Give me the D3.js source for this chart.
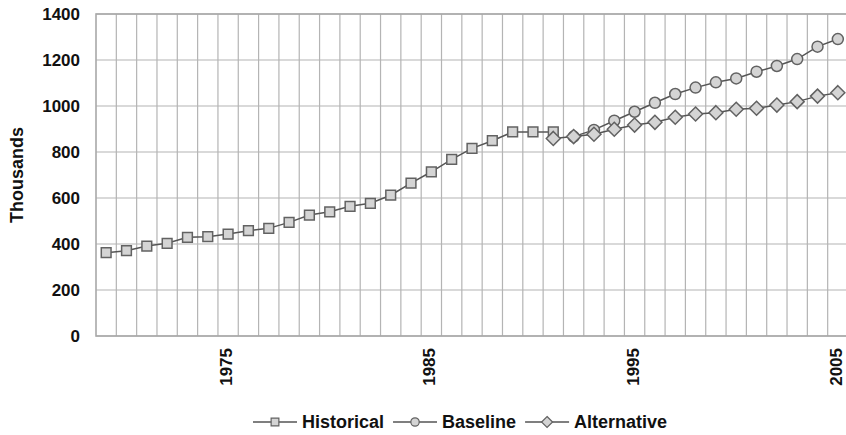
<!DOCTYPE html>
<html><head><meta charset="utf-8">
<script src="https://cdn.jsdelivr.net/npm/d3@7"></script>
<style>
body{margin:0;background:#fff;}
svg{display:block;font-family:"Liberation Sans",Arial,sans-serif;font-weight:bold;}
</style></head>
<body>
<svg id="c" width="846" height="435"></svg>
<script>
const years = d3.range(1969, 2006);
const historicalYears = d3.range(1969, 1992);
const historical = [362,371,391,403,429,432,443,458,468,494,526,540,564,577,612,665,714,768,816,849,887,887,887];
const baselineYears = d3.range(1992, 2006);
const baseline = [867,896,936,975,1014,1052,1080,1103,1120,1149,1174,1204,1258,1291];
const alternativeYears = d3.range(1991, 2006);
const alternative = [859,867,877,899,917,929,951,965,971,986,990,1004,1019,1043,1058];
const xTickLabels = ["1975","1985","1995","2005"];
const yTicks = [0,200,400,600,800,1000,1200,1400];
const seriesNames = ["Historical","Baseline","Alternative"];

const svg = d3.select("#c");
const m = {left:96, top:14, right:848, bottom:336};
const x = d3.scaleBand().domain(years).range([m.left, m.right]);
const y = d3.scaleLinear().domain([0,1400]).range([m.bottom, m.top]);
const cx = d => x(d) + x.bandwidth()/2;

const gridColor = "#b4b4b4";
svg.append("g").selectAll("line").data(yTicks).join("line")
  .attr("x1", m.left).attr("x2", m.right)
  .attr("y1", d => y(d)).attr("y2", d => y(d))
  .attr("stroke", gridColor).attr("stroke-width", 1.2);
svg.append("g").selectAll("line").data(years.slice(1)).join("line")
  .attr("x1", d => x(d)).attr("x2", d => x(d))
  .attr("y1", m.top).attr("y2", m.bottom)
  .attr("stroke", gridColor).attr("stroke-width", 1.2);
svg.append("rect").attr("x", m.left).attr("y", m.top)
  .attr("width", m.right - m.left).attr("height", m.bottom - m.top)
  .attr("fill","none").attr("stroke","#a8a8a8").attr("stroke-width",1.6);

const yAxis = d3.axisLeft(y).tickValues(yTicks).tickFormat(d3.format("d")).tickSize(0).tickPadding(16);
const ga = svg.append("g").attr("transform", `translate(${m.left},0)`).call(yAxis);
ga.select(".domain").remove();
ga.selectAll("text").attr("font-size", 17).attr("font-weight","bold")
  .attr("font-family","Liberation Sans, Arial, sans-serif").attr("fill","#111");

const xAxis = d3.axisBottom(x).tickValues(xTickLabels.map(Number)).tickSize(0).tickPadding(0);
const gx = svg.append("g").attr("transform", `translate(-2,${m.bottom})`).call(xAxis);
gx.select(".domain").remove();
gx.selectAll("text")
  .attr("font-size", 17).attr("font-weight","bold")
  .attr("font-family","Liberation Sans, Arial, sans-serif").attr("fill","#111")
  .attr("transform","translate(0,12) rotate(-90)")
  .attr("text-anchor","end").attr("dy","0.35em").attr("y",0).attr("x",0);

svg.append("text").attr("transform", `translate(23,${(m.top+m.bottom)/2}) rotate(-90)`)
  .attr("text-anchor","middle").attr("font-size",18).attr("fill","#111").text("Thousands");

const lineColor = "#555";
const fill = "#d4d4d4";
const mstroke = "#626262";
const lineGen = d3.line().x(d => cx(d[0])).y(d => y(d[1]));
const diamondPath = r => `M0,${-r}L${r},0L0,${r}L${-r},0Z`;
const sqr = d3.symbol().type(d3.symbolSquare).size(95);
const circ = d3.symbol().type(d3.symbolCircle).size(95);
const diam = () => diamondPath(7);

function drawSeries(yrs, vals, sym){
  const data = yrs.map((yr,i) => [yr, vals[i]]);
  svg.append("path").datum(data).attr("d", lineGen)
    .attr("fill","none").attr("stroke",lineColor).attr("stroke-width",1.5);
  svg.append("g").selectAll("path").data(data).join("path")
    .attr("d", sym)
    .attr("transform", d => `translate(${cx(d[0])},${y(d[1])})`)
    .attr("fill", fill).attr("stroke", mstroke).attr("stroke-width",1.5);
}
drawSeries(historicalYears, historical, sqr);
drawSeries(baselineYears, baseline, circ);
drawSeries(alternativeYears, alternative, diam);

const ly = 422;
const syms = [d3.symbol().type(d3.symbolSquare).size(60)(), d3.symbol().type(d3.symbolCircle).size(55)(), diamondPath(5.5)];
let lx = 253;
const lg = svg.append("g");
seriesNames.forEach((name, i) => {
  lg.append("line").attr("x1", lx).attr("x2", lx+44).attr("y1", ly).attr("y2", ly)
    .attr("stroke", lineColor).attr("stroke-width",1.3);
  lg.append("path").attr("d", syms[i]).attr("transform", `translate(${lx+22},${ly})`)
    .attr("fill", fill).attr("stroke", mstroke).attr("stroke-width",1.2);
  const t = lg.append("text").attr("x", lx+49).attr("y", ly).attr("dy","0.36em")
    .attr("font-size",18).attr("fill","#111").text(name);
  lx = lx + 49 + t.node().getComputedTextLength() + 9;
});
</script>
</body></html>
